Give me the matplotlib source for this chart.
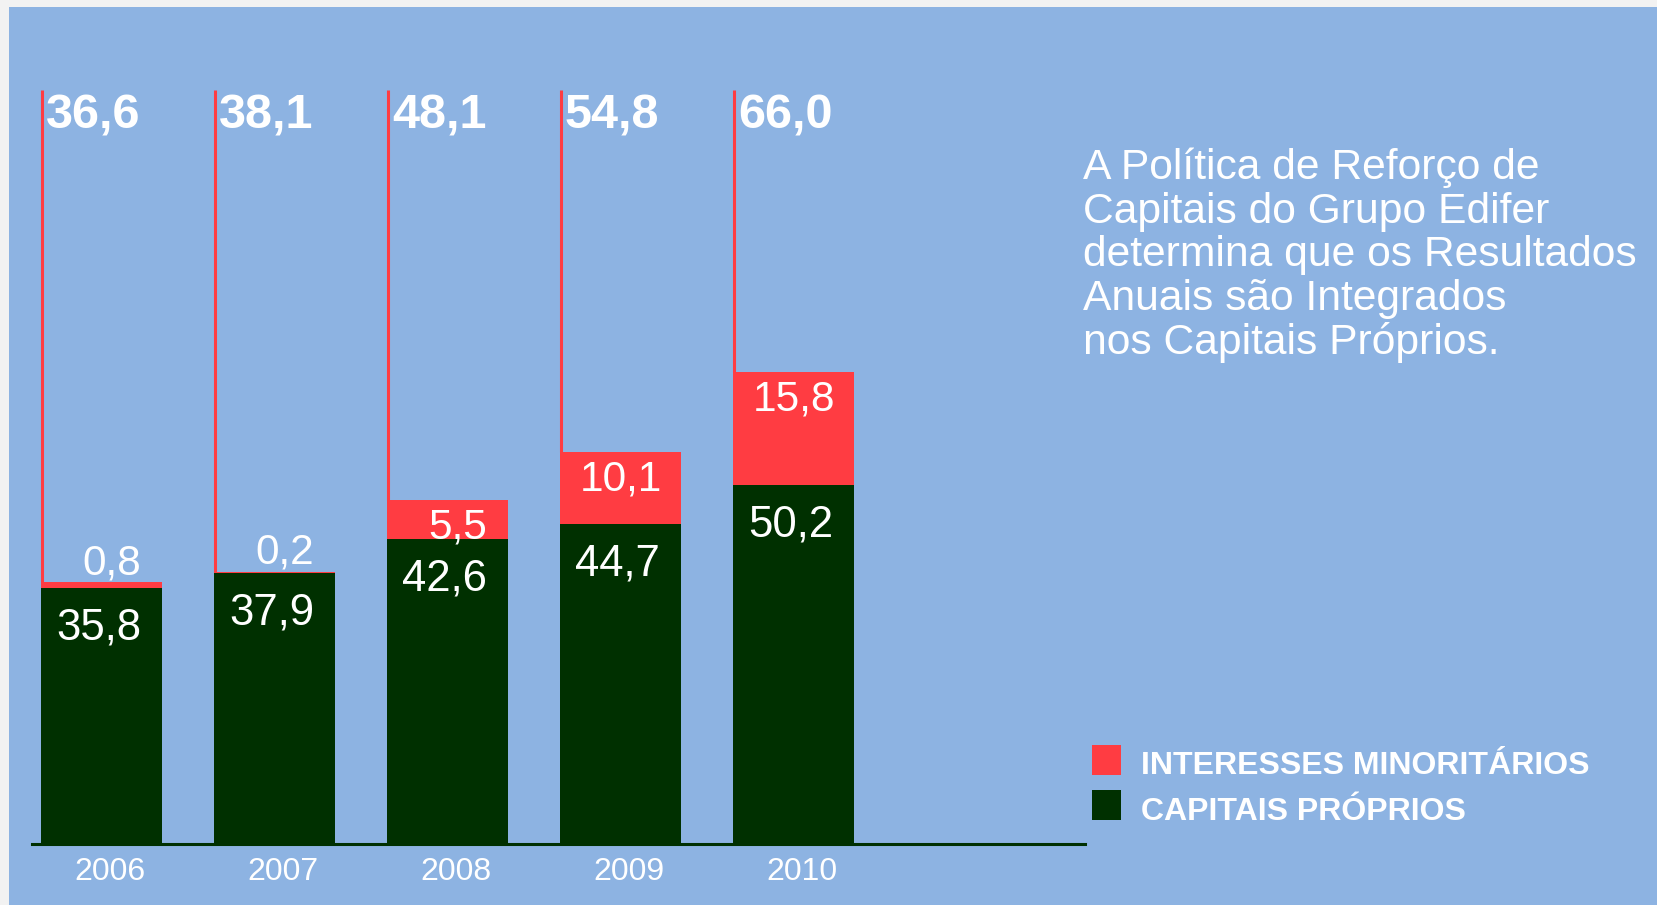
import matplotlib.pyplot as plt
from matplotlib.patches import Rectangle

years = ["2006", "2007", "2008", "2009", "2010"]
capitais = [35.8, 37.9, 42.6, 44.7, 50.2]
minoritarios = [0.8, 0.2, 5.5, 10.1, 15.8]
totais = [36.6, 38.1, 48.1, 54.8, 66.0]
nota = ["A Política de Reforço de",
        "Capitais do Grupo Edifer",
        "determina que os Resultados",
        "Anuais são Integrados",
        "nos Capitais Próprios."]
legenda = ["INTERESSES MINORITÁRIOS", "CAPITAIS PRÓPRIOS"]

BLUE = "#8DB3E2"
RED = "#FF3C42"
GREEN = "#003000"
W, H = 1658, 905

plt.rcParams['font.family'] = ['Liberation Sans', 'DejaVu Sans']

fig = plt.figure(figsize=(W / 100, H / 100), dpi=100, facecolor=BLUE)
# light grey frame on top and left
fig.patches.append(Rectangle((0, 1 - 7 / H), 1, 7 / H, transform=fig.transFigure,
                             facecolor="#F2F2F2", edgecolor="none"))
fig.patches.append(Rectangle((0, 0), 9 / W, 1, transform=fig.transFigure,
                             facecolor="#F2F2F2", edgecolor="none"))

ax = fig.add_axes([32 / W, 61 / H, (1085 - 32) / W, 786.5 / H])
ax.set_facecolor("none")

x = list(range(len(years)))
bw = 0.70
ax.bar(x, capitais, width=bw, color=GREEN, linewidth=0)
ax.bar(x, minoritarios, width=bw, bottom=capitais, color=RED, linewidth=0)

line_top = 105.5
ax.vlines([i - bw / 2 + 0.008 for i in x], totais, line_top, color=RED, linewidth=2.2)

for i in x:
    ax.annotate(f"{totais[i]:.1f}".replace(".", ","), (i - bw / 2, line_top),
                xytext=(5, -39), textcoords="offset pixels", ha="left", va="baseline",
                fontsize=35, fontweight="bold", color="white")
    ax.annotate(f"{capitais[i]:.1f}".replace(".", ","), (i, capitais[i]),
                xytext=(-3, -51), textcoords="offset pixels", ha="center", va="baseline",
                fontsize=31.5, color="white")
    dy = 8 if minoritarios[i] < 1 else -38
    dx = 10 if minoritarios[i] < 6 else 0
    ax.annotate(f"{minoritarios[i]:.1f}".replace(".", ","), (i, totais[i]),
                xytext=(dx, dy), textcoords="offset pixels", ha="center", va="baseline",
                fontsize=30.5, color="white")

ax.set_xlim(-0.402, 5.685)
ax.set_ylim(0, 110)
ax.set_xticks([i + 0.05 for i in x])
ax.set_xticklabels(years, fontsize=23, color="white")
ax.tick_params(axis="x", length=0, pad=9)
ax.set_yticks([])
for s in ["top", "left", "right"]:
    ax.spines[s].set_visible(False)
ax.spines["bottom"].set_color(GREEN)
ax.spines["bottom"].set_linewidth(2.2)

# side note
for k, line in enumerate(nota):
    fig.text(1083 / W, 1 - (179 + k * 43.7) / H, line, fontsize=30.7, color="white",
             ha="left", va="baseline")

# legend
for k, (lab, col) in enumerate(zip(legenda, [RED, GREEN])):
    y0 = 745 + k * 45
    fig.patches.append(Rectangle((1092 / W, 1 - (y0 + 30) / H), 29 / W, 30 / H,
                                 transform=fig.transFigure, facecolor=col, edgecolor="none"))
    fig.text(1141 / W, 1 - (774 + k * 46) / H, lab, fontsize=23, fontweight="bold",
             color="white", ha="left", va="baseline",
             family=['Liberation Sans Narrow', 'Liberation Sans', 'DejaVu Sans'])

fig.savefig("out.png", dpi=100, facecolor=BLUE)
